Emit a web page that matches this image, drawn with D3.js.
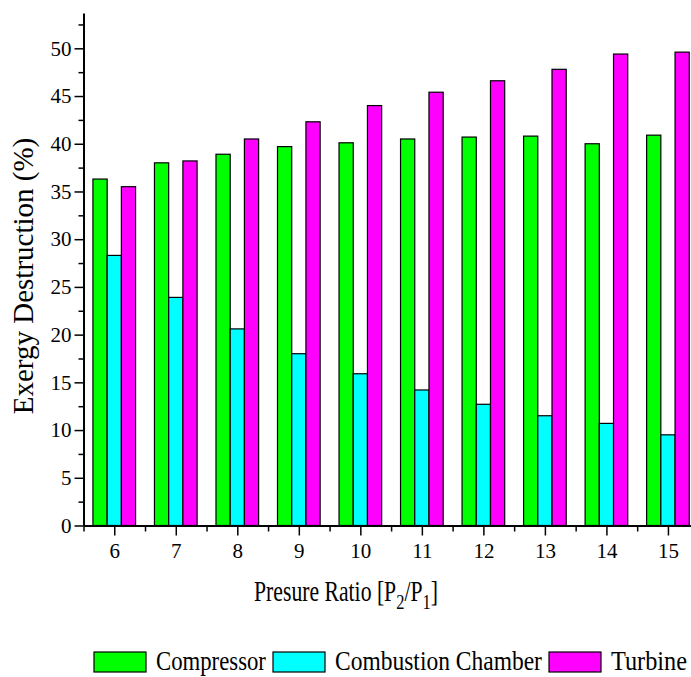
<!DOCTYPE html>
<html>
<head>
<meta charset="utf-8">
<script src="https://cdn.jsdelivr.net/npm/d3@7"></script>
<style>
  body { margin: 0; background: #fff; }
  svg { display: block; }
  .axis path, .axis line { stroke: #000; }
</style>
</head>
<body>
<svg width="691" height="677"></svg>
<script>
// data
var pressureRatio = [6, 7, 8, 9, 10, 11, 12, 13, 14, 15];
var compressor = [36.3, 38.0, 38.9, 39.7, 40.1, 40.5, 40.7, 40.8, 40.0, 40.9];
var combustion = [28.3, 23.9, 20.6, 18.0, 15.9, 14.2, 12.7, 11.5, 10.7, 9.5];
var turbine = [35.5, 38.2, 40.5, 42.3, 44.0, 45.4, 46.6, 47.8, 49.4, 49.6];
var seriesNames = ["Compressor", "Combustion Chamber", "Turbine"];
var seriesColors = ["#00ff00", "#00ffff", "#ff00ff"];
var yTicks = [0, 5, 10, 15, 20, 25, 30, 35, 40, 45, 50];

var series = [compressor, combustion, turbine];
var serif = "'Liberation Serif'";

var svg = d3.select("svg");

// scales: x is a linear pressure-ratio axis, bars sit around each integer
var x = d3.scaleLinear().domain([5.5, 15.5]).range([83.5, 698.7]),
    y = d3.scaleLinear().domain([0, 53.7]).range([525.5, 13]);

var barW = 0.231; // in x units

// bars
series.forEach(function(vals, s) {
  svg.append("g")
    .selectAll("rect")
    .data(vals)
    .enter().append("rect")
      .attr("x", function(d, i) { return x(pressureRatio[i] + (s - 1.5) * barW); })
      .attr("width", x(barW) - x(0))
      .attr("y", function(d) { return y(d); })
      .attr("height", function(d) { return y(0) - y(d); })
      .attr("fill", seriesColors[s])
      .attr("stroke", "#000")
      .attr("stroke-width", 1.2);
});

// minor ticks
var yMinor = d3.range(2.5, 53, 5);
var xMinor = d3.range(5.5, 15.6, 1);

svg.append("g")
    .attr("class", "axis")
    .attr("transform", "translate(" + x(5.5) + ",0)")
    .call(d3.axisLeft(y).tickValues(yMinor).tickSize(5).tickSizeOuter(0).tickFormat(""))
    .call(function(g) { g.select(".domain").remove(); })
    .selectAll("line").attr("stroke-width", 1.5);

svg.append("g")
    .attr("class", "axis")
    .attr("transform", "translate(0," + y(0) + ")")
    .call(d3.axisBottom(x).tickValues(xMinor).tickSize(6).tickSizeOuter(0).tickFormat(""))
    .call(function(g) { g.select(".domain").remove(); })
    .selectAll("line").attr("stroke-width", 1.5);

// y axis
var yAxis = svg.append("g")
    .attr("class", "axis")
    .attr("transform", "translate(" + x(5.5) + ",0)")
    .call(d3.axisLeft(y).tickValues(yTicks).tickSize(9).tickPadding(3).tickSizeOuter(0));
yAxis.select(".domain").attr("stroke-width", 2);
yAxis.selectAll("line").attr("stroke-width", 1.5);
yAxis.selectAll("text")
    .attr("fill", "#000")
    .style("font-family", serif)
    .style("font-size", "21px");

// x axis
var xAxis = svg.append("g")
    .attr("class", "axis")
    .attr("transform", "translate(0," + y(0) + ")")
    .call(d3.axisBottom(x).tickValues(pressureRatio).tickSize(10).tickPadding(8).tickSizeOuter(0));
xAxis.select(".domain").attr("stroke-width", 2);
xAxis.selectAll("line").attr("stroke-width", 1.5);
xAxis.selectAll("text")
    .attr("fill", "#000")
    .style("font-family", serif)
    .style("font-size", "21px");

// y label
svg.append("text")
    .attr("transform", "translate(33,276) rotate(-90)")
    .attr("text-anchor", "middle")
    .style("font-family", serif)
    .style("font-size", "29px")
    .text("Exergy Destruction (%)");

// squeeze a text horizontally so it spans w pixels
function squeeze(t, w) {
  var len = t.node().getComputedTextLength();
  t.attr("transform", "scale(" + (w / len) + ",1)");
}

// x label with subscripts
var xl = svg.append("g").attr("transform", "translate(346,601)");
var xlt = xl.append("text")
    .attr("text-anchor", "middle")
    .style("font-family", serif)
    .style("font-size", "29px");
xlt.append("tspan").text("Presure Ratio [P");
xlt.append("tspan").attr("dy", 8).style("font-size", "22px").text("2");
xlt.append("tspan").attr("dy", -8).text("/P");
xlt.append("tspan").attr("dy", 8).style("font-size", "22px").text("1");
xlt.append("tspan").attr("dy", -8).text("]");
squeeze(xlt, 184);

// legend
var legendTextW = [110, 207, 76];
var lx = 94;
seriesNames.forEach(function(name, i) {
  svg.append("rect")
      .attr("x", lx)
      .attr("y", 652)
      .attr("width", 52)
      .attr("height", 20)
      .attr("fill", seriesColors[i])
      .attr("stroke", "#000")
      .attr("stroke-width", 1.2);
  lx += 52 + 10;
  var t = svg.append("g").attr("transform", "translate(" + lx + ",670)")
    .append("text")
      .style("font-family", serif)
      .style("font-size", "28px")
      .text(name);
  squeeze(t, legendTextW[i]);
  lx += legendTextW[i] + 7;
});
</script>
</body>
</html>
